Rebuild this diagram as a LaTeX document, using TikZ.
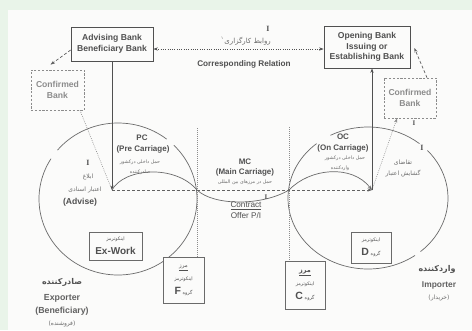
\documentclass[tikz,border=0pt]{standalone}
\usepackage{fontspec}
\setmainfont{Liberation Sans}
\newfontfamily\fa[Script=Arabic]{DejaVu Sans}
\newfontfamily\serI{Liberation Serif}
\TeXXeTstate=1
\usetikzlibrary{arrows.meta}
\definecolor{bgg}{HTML}{E9F4E9}
\definecolor{paper}{HTML}{FBFBFA}
\definecolor{ink}{HTML}{505050}
\definecolor{lite}{HTML}{8C8C8C}
\newcommand\fsz[2]{\fontsize{#1}{#2}\selectfont}
\begin{document}
\begin{tikzpicture}[x=1pt,y=-1pt,
  >={Stealth[length=4.5pt,width=3.2pt]},
  every node/.style={inner sep=0pt, text=ink},
  bankbox/.style={draw=ink, line width=0.7pt, fill=paper, align=center, font=\bfseries\fsz{8.6}{10.6}},
  confbox/.style={draw=lite, line width=0.7pt, dash pattern=on 2.2pt off 1.6pt, fill=paper, align=center, text=lite, font=\bfseries\fsz{8.6}{11}},
  incobox/.style={draw=ink!85, line width=0.6pt, fill=paper, align=center},
  arcline/.style={draw=ink!85, line width=0.7pt},
  wire/.style={draw=ink, line width=0.8pt},
  dashline/.style={draw=ink!90, line width=0.7pt, dash pattern=on 3pt off 2pt},
  dotline/.style={draw=lite, line width=0.6pt, dash pattern=on 0.8pt off 1.2pt},
  dotdark/.style={draw=ink, line width=0.8pt, dash pattern=on 1pt off 1.3pt},
  ibeam/.style={font=\serI\bfseries\fsz{8}{8}},
  entxt/.style={font=\bfseries\fsz{8}{9}},
  fasmall/.style={font=\fa\fsz{4.8}{6}, text=ink!85},
  famid/.style={font=\fa\fsz{6}{7}, text=ink!85},
]
% background
\fill[bgg] (0,0) rectangle (472,330);
\fill[paper] (8,10) rectangle (472,330);
\useasboundingbox (0,0) rectangle (472,330);

% circles
\draw[arcline] ([shift={(-140:79 and 76)}]118,199) arc[start angle=-140, end angle=-52, x radius=79, y radius=76];
\draw[arcline] ([shift={(-45:79 and 76)}]118,199) arc[start angle=-45, end angle=212, x radius=79, y radius=76];
\draw[arcline] ([shift={(-118:80 and 71)}]368,198) arc[start angle=-118, end angle=-50, x radius=80, y radius=71];
\draw[arcline] ([shift={(-42:80 and 71)}]368,198) arc[start angle=-42, end angle=49, x radius=80, y radius=71];
\draw[arcline] ([shift={(54:80 and 71)}]368,198) arc[start angle=54, end angle=230, x radius=80, y radius=71];

% coordinates
\coordinate (hubL) at (112,190);
\coordinate (hubR) at (372,190);
\coordinate (ixL) at (197,190);
\coordinate (ixR) at (289,190);
\coordinate (vtopL) at (197,128);
\coordinate (vtopR) at (289,127);

% boxes
\node[bankbox, minimum width=82pt, minimum height=34pt] (adv) at (112,44) {Advising Bank\\Beneficiary Bank};
\node[bankbox, minimum width=86pt, minimum height=42pt] (open) at (367,47) {Opening Bank\\Issuing or\\Establishing Bank};
\node[confbox, minimum width=53pt, minimum height=40pt] (confL) at (57.5,90) {Confirmed\\Bank};
\node[confbox, minimum width=52pt, minimum height=40pt] (confR) at (410,98) {Confirmed\\Bank};

\node[incobox, minimum width=53pt, minimum height=28pt] (exw) at (115.5,246)
  {{\fa\fsz{4.8}{6}\beginR اینکوترمز\endR}\\[2pt]{\bfseries\fsz{10}{11}Ex-Work}};
\node[incobox, minimum width=40pt, minimum height=31pt] (dbox) at (371,247.5)
  {{\fa\fsz{4.8}{6}\beginR اینکوترمز\endR}\\[2pt]{\bfseries\fsz{10.5}{11}D}\,{\fa\fsz{4.8}{6}\beginR گروه\endR}};
\node[incobox, minimum width=41pt, minimum height=46pt] (fbox) at (183.5,280)
  {{\fa\fsz{5.5}{7}\beginR\underline{مرز}\endR}\\[1pt]{\fa\fsz{4.8}{6}\beginR اینکوترمز\endR}\\[2pt]{\bfseries\fsz{10.5}{11}F}\,{\fa\fsz{4.8}{6}\beginR گروه\endR}};
\node[incobox, minimum width=40pt, minimum height=48pt] (cbox) at (305,285)
  {{\fa\bfseries\fsz{6.5}{8}\beginR\underline{مرز}\endR}\\[1pt]{\fa\fsz{4.8}{6}\beginR اینکوترمز\endR}\\[2pt]{\bfseries\fsz{10.5}{11}C}\,{\fa\fsz{4.8}{6}\beginR گروه\endR}};

% vertical dotted separators
\draw[dotline] (vtopL) -- (vtopL |- fbox.north);
\draw[dotline] (vtopR) -- (vtopR |- cbox.north);

% connectors
\draw[dotdark, <->] ([yshift=-5pt]adv.east) -- ([yshift=-2pt]open.west);
\draw[dashline, ->] ([yshift=-6pt]adv.west) -- ([shift={(-7pt,5pt)}]confL.north);
\draw[dashline, ->] ([xshift=17pt]confR.north) -- ([shift={(4pt,-1pt)}]open.east);
\draw[dotline] ([xshift=22.5pt]confL.south) -- (hubL);
\draw[dotline, ->] (hubR) -- ([xshift=-13pt]confR.south);
\draw[wire, ->] (adv.south -| hubL) -- (hubL);
\draw[wire, ->] (hubR) -- (hubR |- open.south);
\draw[dashline, ->] (hubL) -- (hubR);
\draw[arcline, ->] (hubL) .. controls (124,168) and (175,164) .. (ixL)
   .. controls (214,206) and (262,206) .. (ixR)
   .. controls (310,168) and (352,164) .. (hubR);

% labels
\node[entxt, font=\bfseries\fsz{8.2}{9}] (corr) at (244,64) {Corresponding Relation};
\node[famid, font=\fa\fsz{7}{8}] (relfa) at (246,41) {\raisebox{4pt}{\fsz{4}{4}۱}\,\beginR روابط کارگزاری\endR};
\node[ibeam] (iTop) at (268,29) {I};

\node[entxt] (pc) at (142,138) {PC};
\node[entxt] (pcn) at (143,149) {(Pre Carriage)};
\node[fasmall] (pcf1) at (140,162) {\beginR حمل داخلی درکشور\endR};
\node[fasmall] (pcf2) at (140,172) {\beginR صادرکننده\endR};

\node[ibeam] (iAdv) at (88,163) {I};
\node[famid] (adf1) at (88,177) {\beginR ابلاغ\endR};
\node[famid] (adf2) at (85,190) {\beginR اعتبار اسنادی\endR};
\node[entxt, font=\bfseries\fsz{8.6}{9}] (adv2) at (80,202) {(Advise)};

\node[entxt] (mc) at (245,162) {MC};
\node[entxt] (mcn) at (245,172) {(Main Carriage)};
\node[fasmall] (mcf) at (245,182) {\beginR حمل در مرزهای بین المللی\endR};
\node[ibeam, font=\serI\bfseries\fsz{7}{7}] (iMc) at (266,197) {I};
\node[font=\fsz{8.2}{9}] (ctr) at (246,206) {\underline{Contract}};
\node[font=\fsz{8.2}{9}] (ofr) at (246,216) {Offer P/I};

\node[entxt] (oc) at (343,137) {OC};
\node[entxt] (ocn) at (343,148) {(On Carriage)};
\node[fasmall] (ocf1) at (345,158) {\beginR حمل داخلی درکشور\endR};
\node[fasmall] (ocf2) at (340,168) {\beginR واردکننده\endR};

\node[ibeam] (iReq) at (422,148) {I};
\node[ibeam, font=\serI\bfseries\fsz{7}{7}] (iConf) at (414,123) {I};
\node[famid] (rqf1) at (403,163) {\beginR تقاضای\endR};
\node[famid] (rqf2) at (403,174) {\beginR گشایش اعتبار\endR};

\node[font=\fa\bfseries\fsz{8}{9}] (expfa) at (62,282) {\beginR صادرکننده\endR};
\node[entxt, font=\bfseries\fsz{8.8}{9}, text=ink!90] (exp) at (62,298) {Exporter};
\node[entxt, font=\bfseries\fsz{8.8}{9}, text=ink!90] (ben) at (62,311) {(Beneficiary)};
\node[famid] (selfa) at (62,324) {\beginR(فروشنده)\endR};

\node[font=\fa\bfseries\fsz{8}{9}] (impfa) at (437,269) {\beginR واردکننده\endR};
\node[entxt, font=\bfseries\fsz{8.4}{9}, text=ink!90] (imp) at (439,285) {Importer};
\node[famid] (buyfa) at (439,298) {\beginR(خریدار)\endR};
\end{tikzpicture}
\end{document}
